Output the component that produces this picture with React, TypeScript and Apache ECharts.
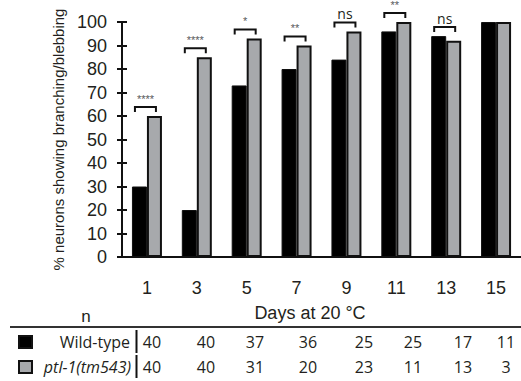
import React, { useEffect, useRef } from "react";
import * as echarts from "echarts";

const days = ["1", "3", "5", "7", "9", "11", "13", "15"];
const wildType = [30, 20, 73, 80, 84, 96, 94, 100];
const ptl1 = [60, 85, 93, 90, 96, 100, 92, 100];
const significance = ["****", "****", "*", "**", "ns", "**", "ns", ""];
const nWildType = [40, 40, 37, 36, 25, 25, 17, 11];
const nPtl1 = [40, 40, 31, 20, 23, 11, 13, 3];

const BLACK = "#000000";
const GRAY = "#a7a9ac";
const TXT = "#231f20";
const AXIS_FONT = "Liberation Sans";
const TABLE_FONT = "Open Sans";

// table column centres (layout only)
const colX = [152, 206, 255, 308, 364, 413, 463, 506];

export default function App() {
  const ref = useRef<HTMLDivElement>(null);
  useEffect(() => {
    if (!ref.current) return;
    const chart = echarts.init(ref.current, null, { renderer: "svg" });

    const tableTexts: any[] = [];
    nWildType.forEach((v, i) => {
      tableTexts.push({
        type: "text",
        x: colX[i],
        y: 342,
        style: { text: String(v), align: "center", verticalAlign: "middle", fill: TXT, font: `16px "${TABLE_FONT}"` },
      });
    });
    nPtl1.forEach((v, i) => {
      tableTexts.push({
        type: "text",
        x: colX[i],
        y: 367,
        style: { text: String(v), align: "center", verticalAlign: "middle", fill: TXT, font: `16px "${TABLE_FONT}"` },
      });
    });

    const bracketData = days
      .map((d, i) => [i, wildType[i], ptl1[i], significance[i]])
      .filter((r) => r[3] !== "");

    chart.setOption({
      animation: false,
      backgroundColor: "#ffffff",
      grid: { left: 122, top: 22, width: 411, height: 235, containLabel: false },
      xAxis: {
        type: "category",
        data: days,
        axisLine: { lineStyle: { color: "#111", width: 2 } },
        axisTick: { show: false },
        axisLabel: { margin: 22, fontSize: 18, fontFamily: AXIS_FONT, color: TXT },
      },
      yAxis: [
        {
          type: "value",
          min: 0,
          max: 100,
          interval: 10,
          name: "% neurons showing branching/blebbing",
          nameLocation: "middle",
          nameGap: 46,
          nameTextStyle: { fontSize: 15, fontFamily: AXIS_FONT, color: TXT },
          axisLine: { show: true, lineStyle: { color: "#111", width: 2 } },
          axisTick: { show: true, length: 5, lineStyle: { color: "#111", width: 2 } },
          axisLabel: { margin: 15, fontSize: 18, fontFamily: AXIS_FONT, color: TXT },
          splitLine: { show: false },
        },
        {
          type: "value",
          min: 0,
          max: 100,
          interval: 10,
          position: "left",
          offset: 0,
          axisLine: { show: false },
          axisTick: { show: true, inside: true, length: 5, lineStyle: { color: "#111", width: 2 } },
          axisLabel: { show: false },
          splitLine: { show: false },
        },
      ],
      series: [
        {
          type: "bar",
          name: "Wild-type",
          data: wildType,
          barWidth: 15,
          barGap: "0%",
          itemStyle: { color: BLACK, borderColor: "#111", borderWidth: 1 },
        },
        {
          type: "bar",
          name: "ptl-1(tm543)",
          data: ptl1,
          barWidth: 15,
          barGap: "0%",
          itemStyle: { color: GRAY, borderColor: "#111", borderWidth: 2 },
        },
        {
          type: "custom",
          data: bracketData,
          clip: false,
          z: 10,
          itemStyle: { color: "#58595b" },
          renderItem: (params: any, api: any) => {
            const idx = api.value(0);
            const top = Math.max(api.value(1), api.value(2));
            const p = api.coord([idx, top]);
            const cx = p[0];
            const y = p[1] - 9;
            const label = bracketData[params.dataIndex][3] as string;
            const isNs = label === "ns";
            return {
              type: "group",
              children: [
                {
                  type: "polyline",
                  shape: { points: [[cx - 12, y + 5], [cx - 12, y], [cx + 9, y], [cx + 9, y + 5]] },
                  style: { stroke: "#111", lineWidth: 2, fill: "none" },
                },
                {
                  type: "text",
                  x: cx - 1.5,
                  y: isNs ? y - 2 : y - 3,
                  style: {
                    text: label,
                    align: "center",
                    verticalAlign: "bottom",
                    fill: isNs ? TXT : "#58595b",
                    font: isNs ? `14px "${TABLE_FONT}"` : `11px "${AXIS_FONT}"`,
                  },
                },
              ],
            };
          },
        },
      ],
      graphic: [
        { type: "text", x: 310, y: 313, style: { text: "Days at 20 °C", align: "center", verticalAlign: "middle", fill: TXT, font: `18px "${AXIS_FONT}"` } },
        { type: "text", x: 86, y: 316, style: { text: "n", align: "center", verticalAlign: "middle", fill: TXT, font: `17px "${AXIS_FONT}"` } },
        { type: "line", shape: { x1: 10, y1: 327, x2: 521, y2: 327 }, style: { stroke: "#333", lineWidth: 2 } },
        { type: "line", shape: { x1: 136.5, y1: 330, x2: 136.5, y2: 353 }, style: { stroke: "#111", lineWidth: 2 } },
        { type: "line", shape: { x1: 136.5, y1: 355, x2: 136.5, y2: 378 }, style: { stroke: "#111", lineWidth: 2 } },
        { type: "rect", shape: { x: 19, y: 336, width: 13, height: 12 }, style: { fill: BLACK, stroke: "#111", lineWidth: 2 } },
        { type: "rect", shape: { x: 19, y: 361, width: 13, height: 12 }, style: { fill: GRAY, stroke: "#111", lineWidth: 2 } },
        { type: "text", x: 130, y: 342, style: { text: "Wild-type", align: "right", verticalAlign: "middle", fill: TXT, font: `16px "${TABLE_FONT}"` } },
        { type: "text", x: 131, y: 367, style: { text: "ptl-1(tm543)", align: "right", verticalAlign: "middle", fill: TXT, font: `italic 16px "${TABLE_FONT}"` } },
        ...tableTexts,
      ],
    });
    return () => chart.dispose();
  }, []);
  return <div ref={ref} style={{ position: "fixed", left: 0, top: 0, width: 521, height: 381 }} />;
}
